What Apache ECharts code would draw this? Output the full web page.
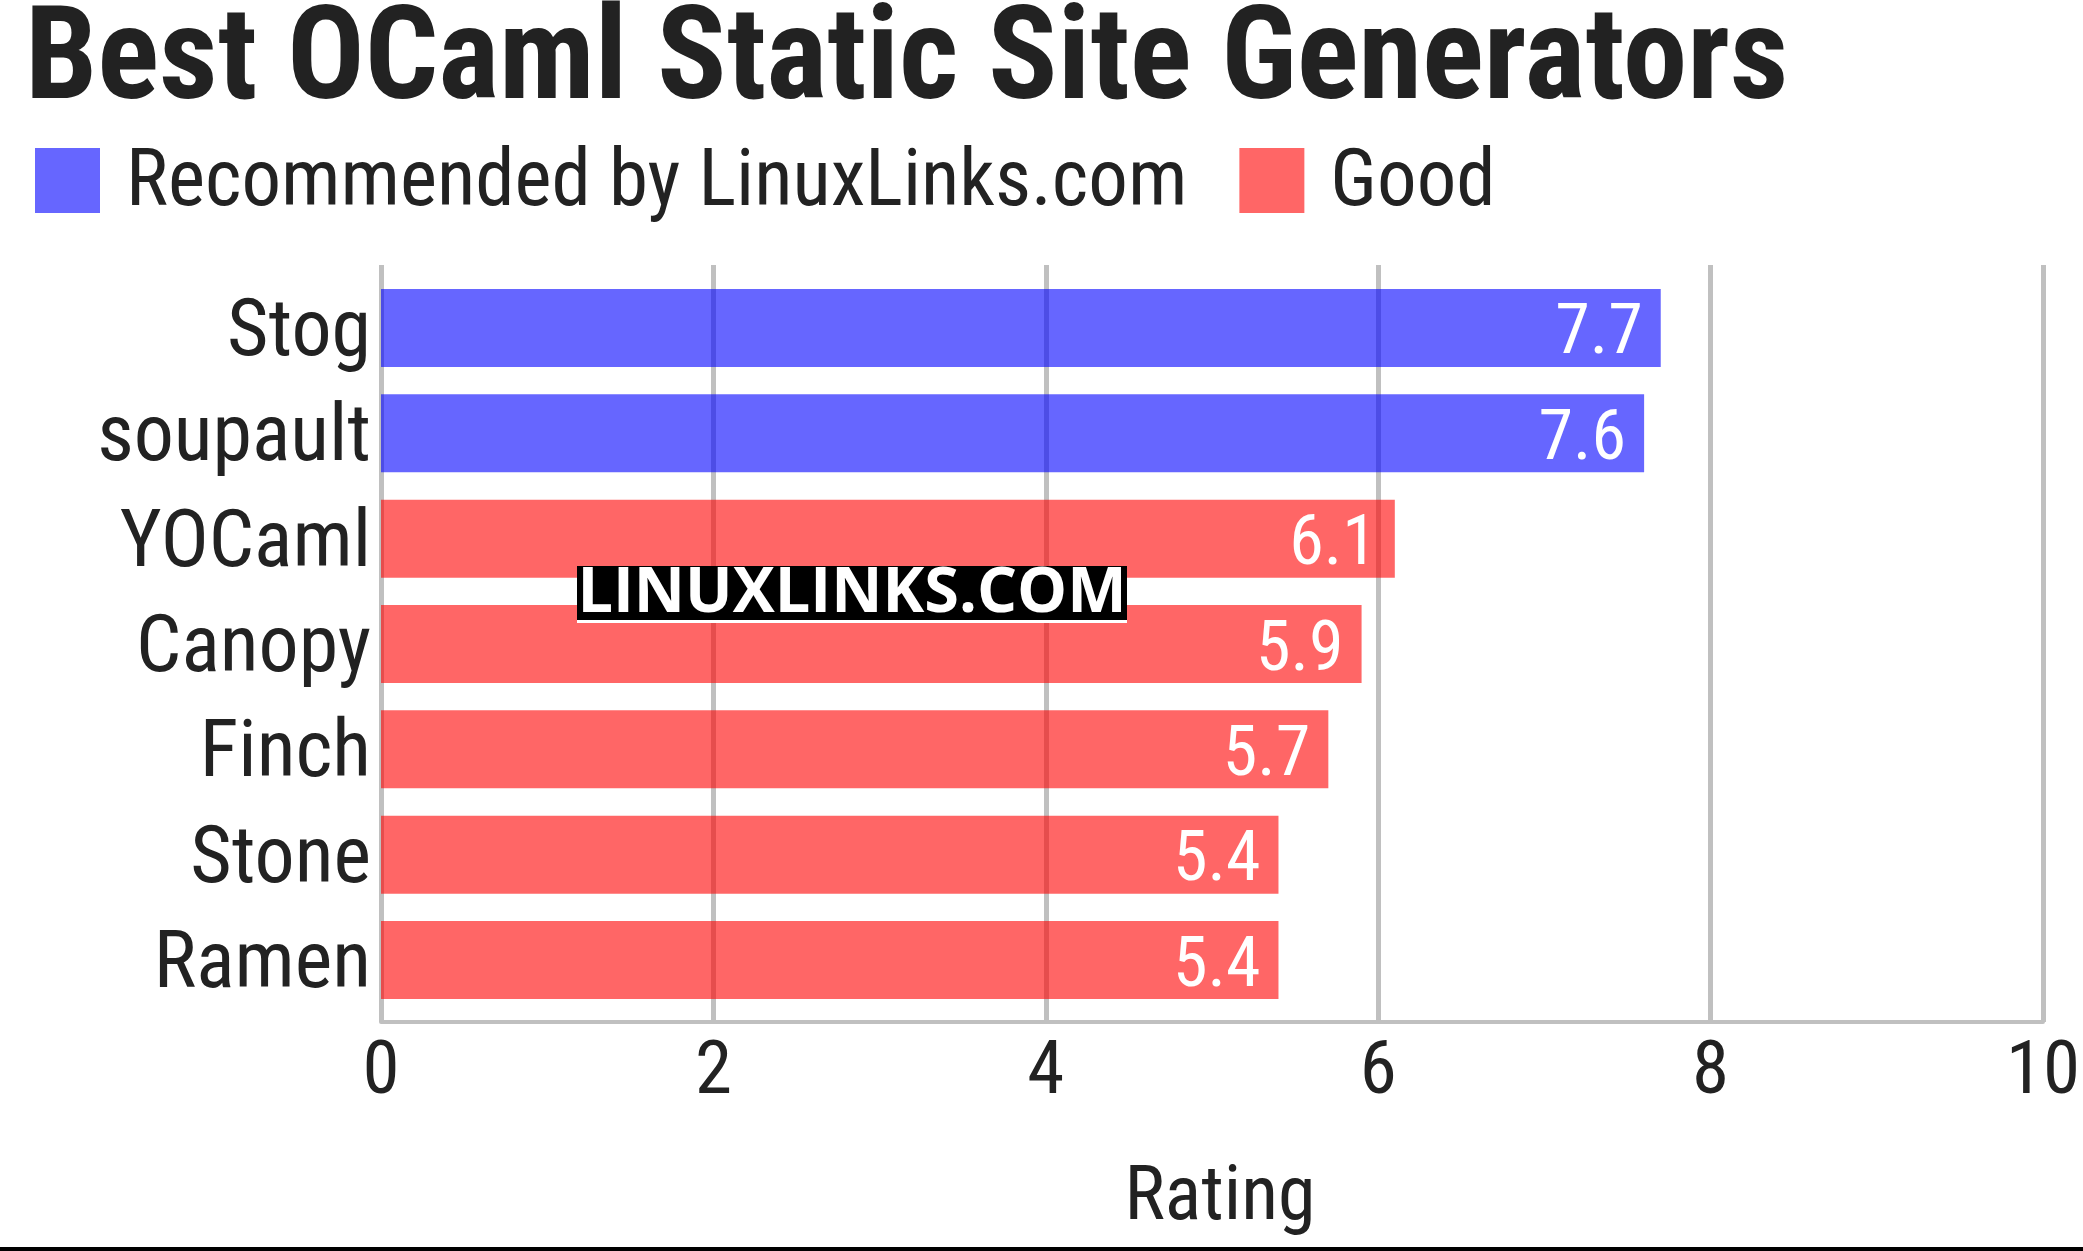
<!DOCTYPE html>
<html>
<head>
<meta charset="utf-8">
<title>Best OCaml Static Site Generators</title>
<script src="https://cdn.jsdelivr.net/npm/echarts@6/dist/echarts.min.js"></script>
<style>
  html, body { margin: 0; padding: 0; background: #fff; }
  #chart { width: 2083px; height: 1251px; }
</style>
</head>
<body>
<div id="chart"></div>
<script>
// data
const categories = ['Stog', 'soupault', 'YOCaml', 'Canopy', 'Finch', 'Stone', 'Ramen']
const recommended = [7.7, 7.6, '-', '-', '-', '-', '-']
const good = ['-', '-', 6.1, 5.9, 5.7, 5.4, 5.4]
const xTicks = { min: 0, max: 10, interval: 2 }

const FONT = '"Roboto Condensed", "Liberation Sans Narrow", "DejaVu Sans Condensed", sans-serif'
const TEXT = '#222222'

let chart = echarts.init(document.getElementById('chart'))

// value label inside the right end of each bar
let barLabel = {
  show: true, position: 'insideRight', distance: 18,
  formatter: '{v|{c}}',
  rich: {
    v: { color: '#ffffff', fontFamily: FONT, fontSize: 70, padding: [16, 0, 0, 0] }
  }
}

let option = {
  backgroundColor: '#ffffff',
  animation: false,
  title: {
    text: 'Best OCaml Static Site Generators',
    left: 20,
    top: -4,
    textStyle: {
      fontFamily: FONT,
      fontWeight: 'bold',
      fontSize: 129,
      color: TEXT
    }
  },
  legend: {
    left: 30,
    top: 141,
    itemWidth: 65,
    itemHeight: 65,
    itemGap: 52,
    icon: 'rect',
    data: ['Recommended by LinuxLinks.com', 'Good'],
    formatter: '{t|{name}}',
    textStyle: {
      rich: {
        t: { fontFamily: FONT, fontSize: 79, color: TEXT, padding: [10, 0, 0, 21] }
      }
    }
  },
  // grid 0 holds the bars, grid 1 draws split lines / axis (a bit taller)
  grid: [
    { left: 381, right: 40, top: 275.3, bottom: 238.3 },
    { left: 381, right: 40, top: 265, bottom: 229 }
  ],
  xAxis: [
    {
      gridIndex: 0, type: 'value',
      min: xTicks.min, max: xTicks.max, interval: xTicks.interval,
      show: false
    },
    {
      gridIndex: 1, type: 'value',
      min: xTicks.min, max: xTicks.max, interval: xTicks.interval,
      name: 'Rating',
      nameLocation: 'middle',
      nameGap: 140,
      nameTextStyle: { fontFamily: FONT, fontSize: 76, color: TEXT, padding: [0, 0, 0, 16] },
      axisLine: { show: true, lineStyle: { color: '#c0c0c0', width: 4 } },
      axisTick: { show: false },
      axisLabel: { fontFamily: FONT, fontSize: 75, color: TEXT, margin: 15 },
      splitLine: { show: true, lineStyle: { color: '#c0c0c0', width: 5 } }
    }
  ],
  yAxis: [
    {
      gridIndex: 0, type: 'category', inverse: true,
      data: categories,
      axisLine: { show: false },
      axisTick: { show: false },
      axisLabel: {
        margin: 10,
        formatter: '{n|{value}}',
        rich: {
          n: { fontFamily: FONT, fontSize: 80, color: TEXT, padding: [14, 0, 0, 0] }
        }
      }
    },
    {
      gridIndex: 1, type: 'value', show: false
    }
  ],
  series: [
    {
      name: 'Recommended by LinuxLinks.com',
      type: 'bar',
      xAxisIndex: 0, yAxisIndex: 0,
      barWidth: 78,
      barGap: '-100%',
      data: recommended,
      itemStyle: { color: 'rgba(0, 0, 255, 0.6)' },
      label: barLabel
    },
    {
      name: 'Good',
      type: 'bar',
      xAxisIndex: 0, yAxisIndex: 0,
      barWidth: 78,
      barGap: '-100%',
      data: good,
      itemStyle: { color: 'rgba(255, 0, 0, 0.6)' },
      label: barLabel
    }
  ],
  graphic: [
    // watermark
    { type: 'rect', z: 100, shape: { x: 577, y: 566, width: 550, height: 54 }, style: { fill: '#000' } },
    { type: 'rect', z: 100, shape: { x: 577, y: 620, width: 550, height: 3 }, style: { fill: '#fff' } },
    {
      type: 'text', z: 101, x: 852, y: 594,
      style: {
        text: 'LINUXLINKS.COM', fill: '#fff',
        font: 'bold 63px "Open Sans", sans-serif',
        align: 'center', verticalAlign: 'middle'
      }
    },
    // bottom rule
    { type: 'rect', z: 100, shape: { x: 0, y: 1247, width: 2083, height: 4 }, style: { fill: '#000' } }
  ]
}

chart.setOption(option)
</script>
</body>
</html>
